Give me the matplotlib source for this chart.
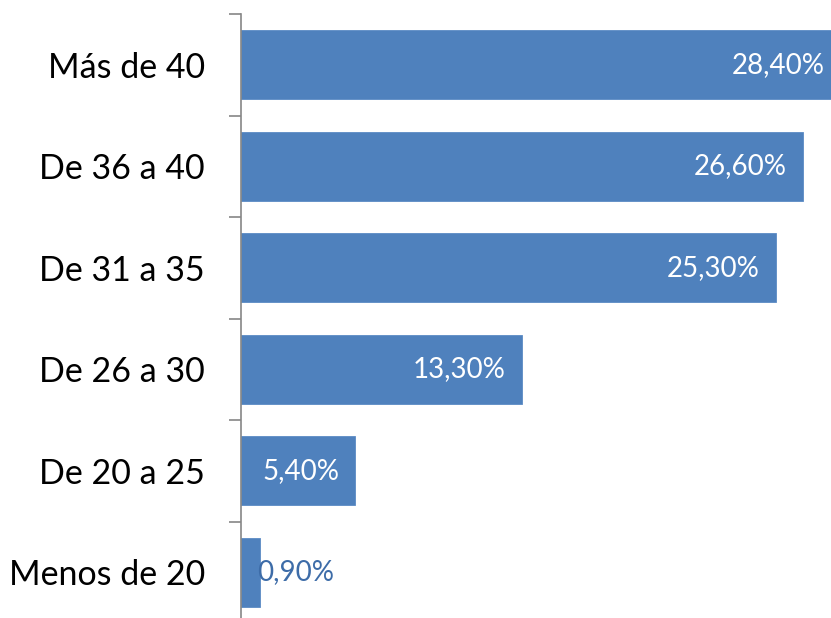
import matplotlib
matplotlib.use("Agg")
import matplotlib.pyplot as plt

categories = ["Más de 40", "De 36 a 40", "De 31 a 35", "De 26 a 30", "De 20 a 25", "Menos de 20"]
values = [28.4, 26.6, 25.3, 13.3, 5.4, 0.9]
labels = ["28,40%", "26,60%", "25,30%", "13,30%", "5,40%", "0,90%"]

plt.rcParams['font.family'] = ['Lato', 'DejaVu Sans']

W, H = 831, 618
fig = plt.figure(figsize=(W / 100, H / 100), dpi=100)
# axes extends slightly beyond figure (like the cropped original)
left_px, right_px = 241, 841
top_px, bottom_px = 14, 623
ax = fig.add_axes([left_px / W, (H - bottom_px) / H, (right_px - left_px) / W, (bottom_px - top_px) / H])

bar_color = "#4F81BD"
ypos = list(range(len(categories)))
ax.barh(ypos, values, height=0.68, color=bar_color, edgecolor="#5B8BC5", linewidth=0.6)
ax.set_xlim(0, 28.4)
ax.set_ylim(len(categories) - 0.5, -0.5)

for y, v, lab in zip(ypos, values, labels):
    if v > 3:
        ax.annotate(lab, xy=(v, y), xytext=(-16, 0), textcoords="offset pixels",
                    ha="right", va="center", color="white", fontsize=20)
    else:
        ax.annotate(lab, xy=(v, y), xytext=(-3, 0), textcoords="offset pixels",
                    ha="left", va="center", color="#3D6CA8", fontsize=20)

ax.set_yticks([i - 0.5 for i in range(len(categories))] + [len(categories) - 0.5])
ax.set_yticklabels([])
ax.set_yticks(ypos, minor=True)
ax.set_yticklabels(categories, minor=True, fontsize=24.5, color="black")
ax.tick_params(axis="y", which="major", length=8.5, width=1.2, color="#868686", direction="out")
ax.tick_params(axis="y", which="minor", length=0, pad=26)
ax.set_xticks([])
for s in ["top", "right", "bottom"]:
    ax.spines[s].set_visible(False)
ax.spines["left"].set_color("#868686")
ax.spines["left"].set_linewidth(1.2)

fig.savefig("out.png", dpi=100)
